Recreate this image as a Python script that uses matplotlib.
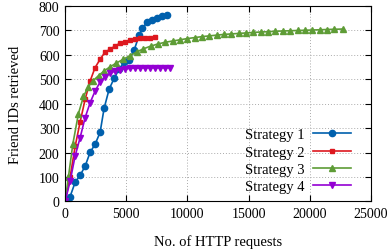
import matplotlib
matplotlib.use("Agg")
import matplotlib.pyplot as plt

plt.rcParams['font.family'] = ['Liberation Serif', 'DejaVu Serif']
plt.rcParams['mathtext.fontset'] = 'stix'

# Strategy 1
s1_x = [0, 408, 817, 1225, 1634, 2042, 2450, 2860, 3186, 3595, 4003, 4412, 4820,
        5229, 5637, 6050, 6290, 6700, 7108, 7516, 7925, 8333]
s1_y = [0, 20, 78, 107, 144, 201, 234, 283, 381, 459, 504, 541, 570,
        578, 619, 680, 709, 733, 742, 750, 758, 765]

# Strategy 2
s2_x = [0, 408, 817, 1225, 1634, 2042, 2450, 2860, 3268, 3676, 4084, 4492, 4900,
        5308, 5716, 6124, 6532, 6940, 7350]
s2_y = [0, 100, 225, 325, 418, 493, 548, 582, 612, 623, 637, 648, 654,
        661, 665, 668, 670, 671, 672]

# Strategy 3
s3_x = [0, 270, 630, 1090, 1500, 1900, 2300, 2730, 3200, 3700, 4200, 4750, 5300,
        5850, 6400, 7000, 7600, 8200, 8800, 9400, 10000, 10600, 11200, 11800,
        12400, 13000, 13600, 14200, 14800, 15400, 16000, 16600, 17200, 17800,
        18400, 19000, 19600, 20200, 20800, 21400, 22000, 22700]
s3_y = [0, 100, 235, 360, 430, 470, 495, 515, 535, 552, 567, 582, 597,
        612, 625, 636, 645, 652, 657, 662, 667, 671, 675, 678,
        681, 684, 686, 688, 690, 692, 694, 695, 697, 698,
        699, 700, 701, 702, 703, 704, 705, 706]

# Strategy 4
s4_x = [0, 408, 817, 1225, 1634, 2042, 2450, 2860, 3268, 3676, 4084, 4492, 4900,
        5308, 5716, 6124, 6532, 6940, 7348, 7756, 8164, 8572]
s4_y = [0, 83, 186, 261, 343, 404, 452, 489, 511, 525, 534, 540, 543,
        545, 546, 546, 547, 547, 547, 547, 547, 547]

fig = plt.figure(figsize=(3.9, 2.53), dpi=100)
ax = fig.add_axes([0.167, 0.2, 0.784, 0.772])

ax.plot(s1_x, s1_y, '-o', color='#0060ad', lw=1.2, ms=4.5, label='Strategy 1')
ax.plot(s2_x, s2_y, '-s', color='#dd181f', lw=1.2, ms=3.5, label='Strategy 2')
ax.plot(s3_x, s3_y, '-^', color='#5e9c36', lw=1.2, ms=5, label='Strategy 3')
ax.plot(s4_x, s4_y, '-v', color='#9400d3', lw=1.2, ms=5, label='Strategy 4')

ax.set_xlim(0, 25000)
ax.set_ylim(0, 800)
ax.set_xticks(range(0, 25001, 5000))
ax.set_yticks(range(0, 801, 100))
ax.grid(True, linestyle=(0, (1, 2)), color='#aaaaaa', lw=0.7)
ax.tick_params(direction='in', top=True, right=True, labelsize=10, length=4, width=0.8, pad=4)
for sp in ax.spines.values():
    sp.set_linewidth(0.8)

ax.set_xlabel('No. of HTTP requests', fontsize=10.5, labelpad=10)
ax.set_ylabel('Friend IDs retrieved', fontsize=10.5, labelpad=12)

ax.legend(loc='lower right', bbox_to_anchor=(0.955, 0.012), frameon=False, markerfirst=False,
          fontsize=10.5, handlelength=2.6, labelspacing=0.28, borderaxespad=0.0,
          handletextpad=0.6)

fig.savefig('out.png', dpi=100)
